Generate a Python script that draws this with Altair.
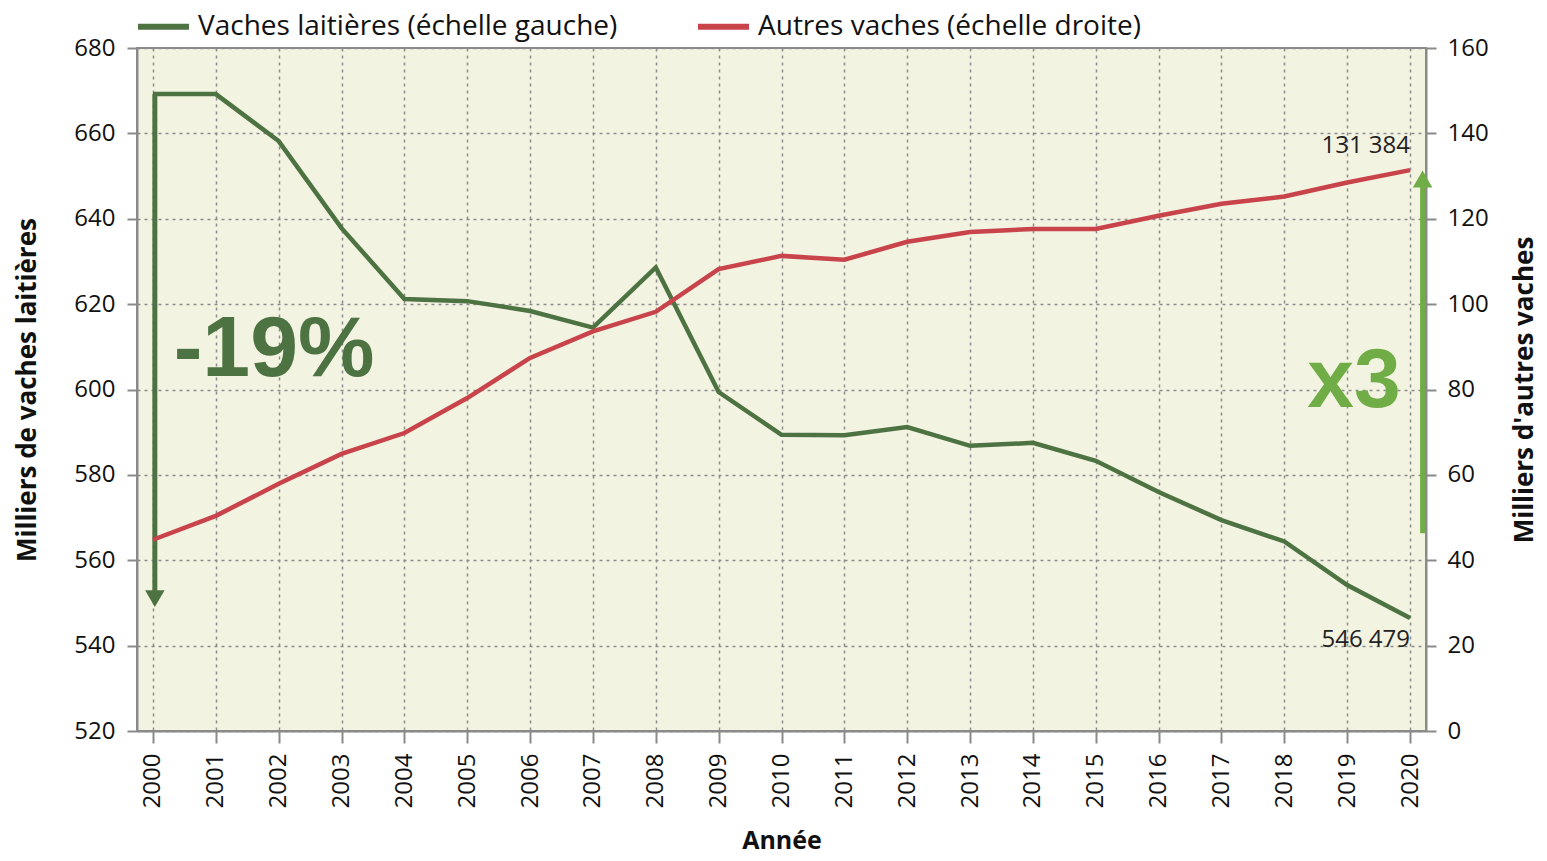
import altair as alt
import pandas as pd

years = list(range(2000, 2021))
laitieres = [669.2, 669.2, 658.2, 637.8, 621.2, 620.7, 618.4, 614.5, 628.6, 599.4, 589.4,
             589.3, 591.2, 586.8, 587.5, 583.3, 576.0, 569.4, 564.4, 554.2, 546.479]
autres = [44.8, 50.4, 57.9, 64.9, 69.8, 78.0, 87.4, 93.6, 98.2, 108.2, 111.3,
          110.4, 114.6, 116.9, 117.6, 117.6, 120.7, 123.5, 125.2, 128.5, 131.384]
series_names = ["Vaches laitières (échelle gauche)", "Autres vaches (échelle droite)"]
label_laitieres = "546 479"
label_autres = "131 384"
text_minus = "-19%"
text_times = "x3"

GREEN = "#4d7342"
RED = "#c9434b"
LGREEN = "#70ad47"
FONT = "Open Sans"

df_l = pd.DataFrame({"annee": years, "val": laitieres, "serie": series_names[0]})
df_a = pd.DataFrame({"annee": years, "val": autres, "serie": series_names[1]})

xscale = alt.Scale(domain=[1999.746, 2020.254], nice=False, zero=False)
yl = alt.Scale(domain=[520, 680], nice=False, zero=False)
yr = alt.Scale(domain=[0, 160], nice=False, zero=False)
color = alt.Color("serie:N", scale=alt.Scale(domain=series_names, range=[GREEN, RED]),
                  sort=series_names,
                  legend=alt.Legend(title=None, orient="none", legendX=-2, legendY=-50,
                                    direction="horizontal", symbolType="stroke",
                                    symbolSize=2601, symbolStrokeWidth=6,
                                    labelFontSize=28, labelFont=FONT, labelColor="#111",
                                    labelOffset=6, columnPadding=68, labelLimit=700,
                                    padding=0))

x_axis = alt.Axis(values=years, format="d", labelAngle=270, title="Année",
                  titleFont=FONT, titleFontSize=25, titleFontWeight="bold", titleColor="#111",
                  titlePadding=21, labelFont=FONT, labelFontSize=24, labelColor="#111",
                  labelPadding=10, tickSize=12, tickColor="#8a8a8a", tickWidth=2,
                  domainColor="#8a8a8a", domainWidth=2, grid=True, gridColor="#8c8c8c",
                  gridDash=[3, 4], gridWidth=1.5, labelFlush=False)

left_axis = alt.Axis(values=list(range(520, 681, 20)), title="Milliers de vaches laitières",
                     titleFont=FONT, titleFontSize=26, titleFontWeight="bold", titleColor="#111",
                     titlePadding=33, labelFont=FONT, labelFontSize=24, labelColor="#111",
                     labelPadding=12, tickSize=10, tickColor="#8a8a8a", tickWidth=2,
                     domainColor="#8a8a8a", domainWidth=2, grid=True, gridColor="#8c8c8c",
                     gridDash=[3, 4], gridWidth=1.5)

right_axis = alt.Axis(values=list(range(0, 161, 20)), title="Milliers d'autres vaches",
                      orient="right", titleAngle=270, titleBaseline="top",
                      titleFont=FONT, titleFontSize=26, titleFontWeight="bold", titleColor="#111",
                      titlePadding=23, labelFont=FONT, labelFontSize=24, labelColor="#111",
                      labelPadding=11, tickSize=10, tickColor="#8a8a8a", tickWidth=2,
                      domainColor="#8a8a8a", domainWidth=2, grid=False)


def X(field):
    return alt.X(field, type="quantitative", scale=xscale, axis=x_axis)


def YL(field):
    return alt.Y(field, type="quantitative", scale=yl, axis=left_axis)


def YR(field):
    return alt.Y(field, type="quantitative", scale=yr, axis=right_axis)


line_l = alt.Chart(df_l).mark_line(strokeWidth=4.5).encode(x=X("annee"), y=YL("val"), color=color)

# annotation: down arrow (left scale)
arr_l = pd.DataFrame({"annee": [2000.03], "val": [669.2], "val2": [551.0]})
shaft_l = alt.Chart(arr_l).mark_rule(color=GREEN, strokeWidth=5).encode(
    x=X("annee"), y=YL("val"), y2="val2:Q")
head_l = alt.Chart(arr_l).mark_point(shape="triangle-down", filled=True, color=GREEN,
                                     opacity=1, size=380).encode(x=X("annee"), y=YL("val2"))
txt_l = alt.Chart(pd.DataFrame({"annee": [2000.33], "val": [603.2], "t": [text_minus]})).mark_text(
    align="left", baseline="alphabetic", font="Liberation Sans", fontWeight="bold",
    fontSize=86, color=GREEN).encode(x=X("annee"), y=YL("val"), text="t:N")
lab_l = alt.Chart(pd.DataFrame({"annee": [2020], "val": [laitieres[-1]], "t": [label_laitieres]})).mark_text(
    align="right", baseline="top", dy=10, font=FONT, fontSize=24, color="#222").encode(
    x=X("annee"), y=YL("val"), text="t:N")

left = alt.layer(line_l, shaft_l, head_l, txt_l, lab_l)

line_a = alt.Chart(df_a).mark_line(strokeWidth=4.5).encode(x=X("annee"), y=YR("val"), color=color)
arr_r = pd.DataFrame({"annee": [2020.2], "val": [46.3], "val2": [129.3]})
shaft_r = alt.Chart(arr_r).mark_rule(color=LGREEN, strokeWidth=5).encode(
    x=X("annee"), y=YR("val"), y2="val2:Q")
head_r = alt.Chart(arr_r).mark_point(shape="triangle-up", filled=True, color=LGREEN,
                                     opacity=1, size=380).encode(x=X("annee"), y=YR("val2"))
txt_r = alt.Chart(pd.DataFrame({"annee": [2019.85], "val": [76.0], "t": [text_times]})).mark_text(
    align="right", baseline="alphabetic", font="Liberation Sans", fontWeight="bold",
    fontSize=84, color=LGREEN).encode(x=X("annee"), y=YR("val"), text="t:N")
lab_r = alt.Chart(pd.DataFrame({"annee": [2020], "val": [autres[-1]], "t": [label_autres]})).mark_text(
    align="right", baseline="bottom", dy=-12, font=FONT, fontSize=24, color="#222").encode(
    x=X("annee"), y=YR("val"), text="t:N")

right = alt.layer(line_a, shaft_r, head_r, txt_r, lab_r)

chart = alt.layer(left, right).resolve_scale(y="independent").properties(
    width=1289, height=683,
    autosize=alt.AutoSizeParams(type="none"),
    padding={"left": 129, "top": 40, "right": 113, "bottom": 122},
    background="white",
).configure_view(fill="#f3f3e2", stroke="#8a8a8a", strokeWidth=2)

chart.save("out.html", embed_options={"renderer": "svg", "actions": False})
